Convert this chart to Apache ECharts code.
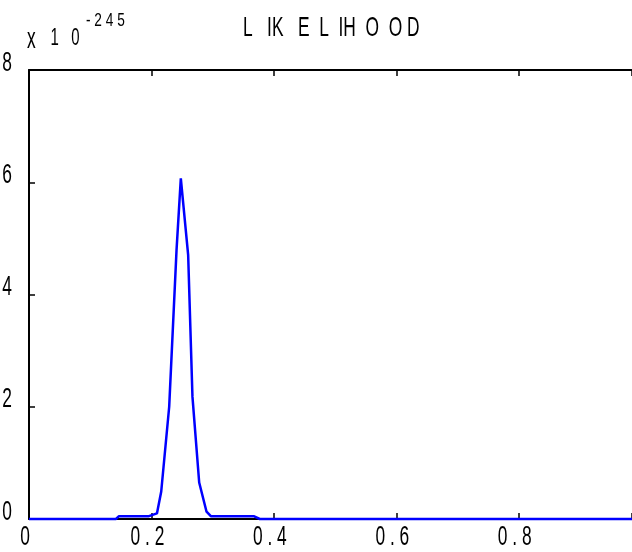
<!DOCTYPE html>
<html>
<head>
<meta charset="utf-8">
<script src="https://cdn.jsdelivr.net/npm/echarts@6/dist/echarts.min.js"></script>
<style>
  html, body { margin: 0; padding: 0; background: #ffffff; }
  #chart { width: 632px; height: 552px; }
</style>
</head>
<body>
<div id="chart"></div>
<script>
// Likelihood curve over the parameter (values in units of 1e-245)
const paramValues = [0, 0.142, 0.147, 0.196, 0.209, 0.216, 0.229, 0.241, 0.248, 0.260, 0.267, 0.278, 0.290, 0.297, 0.367, 0.377, 0.985];
const likelihood  = [0, 0,     0.05,  0.05,  0.10,  0.49,  2.00,  4.79,  6.07,  4.70,  2.18,  0.65,  0.13,  0.05,  0.05,  0,     0];

const xTickValues = [0, 0.2, 0.4, 0.6, 0.8];
const xTickLabels = ['0', '0 . 2', '0 . 4', '0 . 6', '0 . 8'];
const yTickValues = [0, 2, 4, 6, 8];
const yTickLabels = ['0', '2', '4', '6', '8'];

const titleText = 'L   IK   E  L  IH  O  O D';
const scaleMark = 'x';
const scaleBase = '1   0';
const scaleExp = '- 2 4 5';

// Narrow, tall lettering: a regular sans face squeezed horizontally
const FONT = '"Liberation Sans", Arimo, sans-serif';
const NARROW = 0.62;

const chart = echarts.init(document.getElementById('chart'), null, { renderer: 'canvas' });

const axisLineStyle = { color: '#000', width: 2 };
const tickStyle = { color: '#000', width: 1.5 };

function narrowText(text, x, y, size, align, scale) {
  return {
    type: 'text', x: x, y: y, scaleX: scale, z: 10,
    style: {
      text: text, fontFamily: FONT, fontSize: size, fill: '#000',
      align: align, verticalAlign: 'middle'
    }
  };
}

chart.setOption({
  animation: false,
  backgroundColor: '#ffffff',
  grid: { left: 29, right: 0, top: 70, bottom: 33, containLabel: false, outerBoundsMode: 'none' },
  xAxis: [
    {
      type: 'value', position: 'bottom', min: 0, max: 0.985, interval: 0.2,
      axisLine: { show: true, onZero: false, lineStyle: axisLineStyle },
      axisTick: { show: true, inside: true, length: 6, lineStyle: tickStyle },
      splitLine: { show: false },
      axisLabel: { show: false }
    },
    {
      type: 'value', position: 'top', min: 0, max: 0.985, interval: 0.2,
      axisLine: { show: true, onZero: false, lineStyle: axisLineStyle },
      axisTick: { show: true, inside: true, length: 6, lineStyle: tickStyle },
      splitLine: { show: false },
      axisLabel: { show: false }
    }
  ],
  yAxis: {
    type: 'value', min: 0, max: 8, interval: 2,
    axisLine: { show: true, onZero: false, lineStyle: axisLineStyle },
    axisTick: { show: true, inside: true, length: 6, lineStyle: tickStyle },
    splitLine: { show: false },
    axisLabel: { show: false }
  },
  series: [
    {
      type: 'line',
      xAxisIndex: 0,
      data: paramValues.map((x, i) => [x, likelihood[i]]),
      symbol: 'none',
      lineStyle: { color: '#0000ff', width: 2.5 },
      clip: false,
      z: 5
    }
  ]
});

// Tick labels placed from the axes' own scales
const labels = [];
xTickValues.forEach((v, i) => {
  const p = chart.convertToPixel({ xAxisIndex: 0, yAxisIndex: 0 }, [v, 0]);
  labels.push(narrowText(xTickLabels[i], p[0] - 4, p[1] + 18, 28, 'center', NARROW));
});
yTickValues.forEach((v, i) => {
  const p = chart.convertToPixel({ xAxisIndex: 0, yAxisIndex: 0 }, [0, v]);
  labels.push(narrowText(yTickLabels[i], p[0] - 22, p[1] - 7, 28, 'center', NARROW));
});

// Title and exponent note
labels.push(narrowText(titleText, 243, 28, 28, 'left', 0.62));
labels.push(narrowText(scaleMark, 27, 40, 29, 'left', 0.6));
labels.push(narrowText(scaleBase, 65, 39, 23, 'center', 0.65));
labels.push(narrowText(scaleExp, 86, 21, 19, 'left', 0.72));

chart.setOption({ graphic: labels });
</script>
</body>
</html>
